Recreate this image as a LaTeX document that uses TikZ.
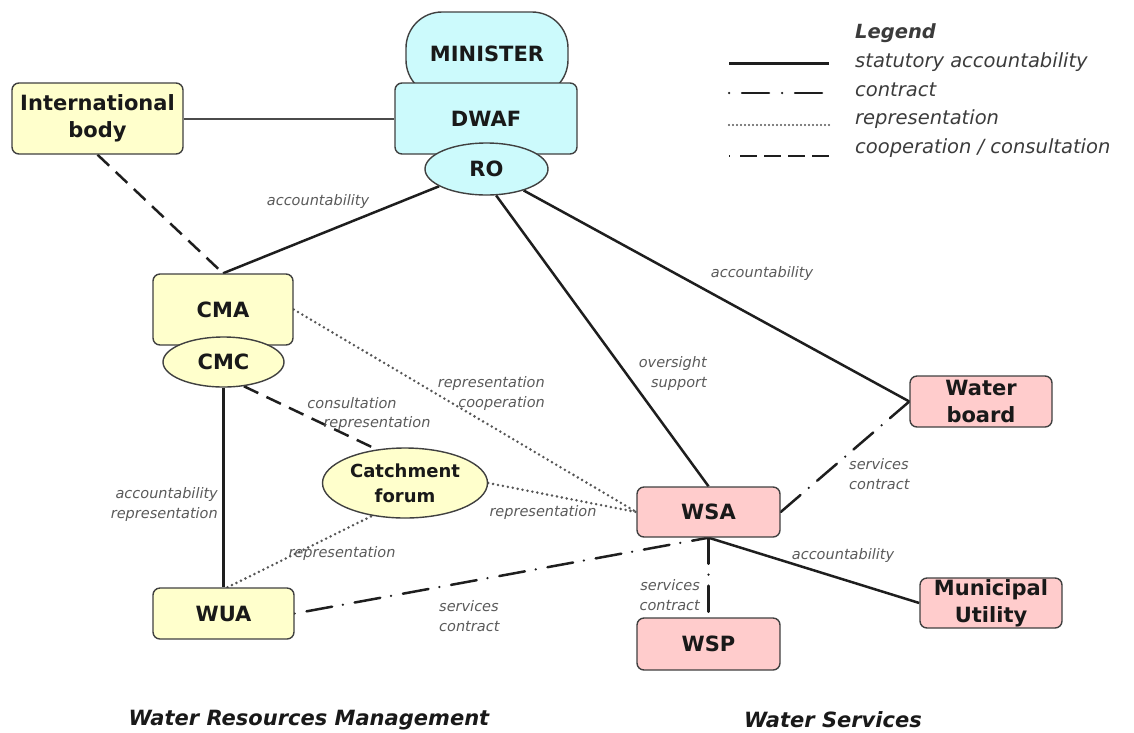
\documentclass[tikz,border=0pt]{standalone}
\usepackage{fontspec}
\setmainfont{DejaVu Sans}
\usetikzlibrary{shapes.geometric}
\pgfdeclarelayer{background}
\pgfsetlayers{background,main}
\definecolor{yel}{RGB}{255,255,204}
\definecolor{cya}{RGB}{204,250,252}
\definecolor{pnk}{RGB}{255,204,204}
\definecolor{bord}{RGB}{64,64,64}
\definecolor{lab}{RGB}{90,90,90}
\definecolor{txt}{RGB}{25,25,25}
\definecolor{lnc}{RGB}{30,30,30}
\begin{document}
\begin{tikzpicture}[x=1pt,y=-1pt,
  nodefont/.style={font=\fontsize{21}{27}\selectfont\bfseries},
  box/.style={draw=bord, line width=1.4pt, rounded corners=7pt, inner sep=0pt, align=center, nodefont, text=txt},
  oval/.style={ellipse, draw=bord, line width=1.4pt, inner sep=0pt, align=center, nodefont, text=txt},
  lbl/.style={font=\fontsize{14.5}{20}\selectfont\itshape, text=lab, inner sep=0pt},
  legtxt/.style={font=\fontsize{19.5}{24}\selectfont\itshape, text=txt!85, inner sep=0pt, anchor=west},
  titletxt/.style={font=\fontsize{21}{25}\selectfont\bfseries\itshape, text=txt, inner sep=0pt},
  solidln/.style={line width=2.5pt, draw=lnc},
  contractln/.style={line width=2.5pt, draw=lnc, line cap=round, dash pattern=on 26pt off 11pt on 0pt off 11pt},
  reprln/.style={line width=2.8pt, draw=lnc!75, line cap=round, dash pattern=on 0pt off 5pt},
  coopln/.style={line width=2.5pt, draw=lnc, dash pattern=on 16pt off 9pt},
]
\useasboundingbox (0,0) rectangle (1134,732);

% nodes
\node[box, fill=cya, rounded corners=36pt, minimum width=162pt, minimum height=84pt] (MIN) at (487,54) {MINISTER};
\node[box, fill=cya, minimum width=182pt, minimum height=71pt] (DWAF) at (486,118.5) {DWAF};
\node[oval, fill=cya, minimum width=123pt, minimum height=52pt] (RO) at (486.5,169) {RO};
\node[box, fill=yel, minimum width=171pt, minimum height=71pt] (INT) at (97.5,118.5) {International\\body};
\node[box, fill=yel, minimum width=140pt, minimum height=71pt] (CMA) at (223,309.5) {CMA};
\node[oval, fill=yel, minimum width=121pt, minimum height=50pt] (CMC) at (223.5,362) {CMC};
\node[oval, fill=yel, minimum width=165pt, minimum height=70pt, font=\fontsize{18}{25}\selectfont\bfseries] (CF) at (405,483) {Catchment\\forum};
\node[box, fill=yel, minimum width=141pt, minimum height=51pt] (WUA) at (223.5,613.5) {WUA};
\node[box, fill=pnk, minimum width=143pt, minimum height=50pt] (WSA) at (708.5,512) {WSA};
\node[box, fill=pnk, minimum width=143pt, minimum height=52pt] (WSP) at (708.5,644) {WSP};
\node[box, fill=pnk, minimum width=142pt, minimum height=51pt] (WB) at (981,401.5) {Water\\board};
\node[box, fill=pnk, minimum width=142pt, minimum height=50pt] (MU) at (991,603) {Municipal\\Utility};

% connectors
\begin{pgfonlayer}{background}
\draw[solidln, line width=2pt, draw=lnc!80] (INT.east) -- (DWAF.west);
\draw[coopln] (INT.south) -- (CMA.north);
\draw[solidln] (RO.200) -- (CMA.north);
\draw[solidln] (RO.-70) -- (WSA.north);
\draw[solidln] (RO.-30) -- (WB.west);
\draw[reprln] (CMA.east) -- (WSA.west);
\draw[coopln] (CMC.-50) -- (CF.130);
\draw[solidln] (CMC.south) -- (WUA.north);
\draw[reprln] ([xshift=4pt]WUA.north) -- (CF.225);
\draw[reprln] (CF.east) -- (WSA.west);
\draw[contractln, dash pattern=on 0pt off 12pt on 26pt off 11pt] (WUA.east) -- (WSA.south);
\draw[contractln] (WSA.east) -- (WB.west);
\draw[contractln] (WSA.south) -- (WSP.north);
\draw[solidln] (WSA.south) -- (MU.west);
\end{pgfonlayer}

% connector labels
\node[lbl] (la1) at (318,201) {accountability};
\node[lbl] (la2) at (762,273) {accountability};
\node[lbl, anchor=east, align=right] (la3) at (707,373) {oversight\\support};
\node[lbl, anchor=east, align=right] (la4) at (545,393) {representation\\cooperation};
\node[lbl] (la5) at (352,403) {consultation};
\node[lbl] (la6) at (377,423) {representation};
\node[lbl, anchor=east, align=right] (la7) at (218,504) {accountability\\representation};
\node[lbl] (la8) at (342,553) {representation};
\node[lbl] (la9) at (543,512) {representation};
\node[lbl, anchor=west, align=left] (la10) at (849,474) {services\\contract};
\node[lbl, anchor=west, align=left] (la11) at (439,616) {services\\contract};
\node[lbl, anchor=east, align=right] (la12) at (700,595) {services\\contract};
\node[lbl] (la13) at (843,555) {accountability};

% legend
\node[legtxt, font=\fontsize{19.5}{24}\selectfont\bfseries\itshape] (LG) at (855,33) {Legend};
\node[legtxt] (L1) at (855,62) {statutory accountability};
\node[legtxt] (L2) at (855,90) {contract};
\node[legtxt] (L3) at (855,119) {representation};
\node[legtxt] (L4) at (855,148) {cooperation / consultation};
\coordinate (s1a) at (729,63);  \coordinate (s1b) at (829,63);
\coordinate (s2a) at (729,93);  \coordinate (s2b) at (829,93);
\coordinate (s3a) at (729,125); \coordinate (s3b) at (829,125);
\coordinate (s4a) at (729,156); \coordinate (s4b) at (829,156);
\draw[solidln, line width=3pt] (s1a) -- (s1b);
\draw[contractln, dash pattern=on 0pt off 13pt on 27pt off 13pt] (s2a) -- (s2b);
\draw[reprln, line width=2.4pt, dash pattern=on 0pt off 4pt] (s3a) -- (s3b);
\draw[coopln, dash pattern=on 1pt off 10pt on 17pt off 7pt on 17pt off 7pt on 17pt off 7pt on 17pt off 7pt] (s4a) -- (s4b);

% titles
\node[titletxt] (T1) at (309,720) {Water Resources Management};
\node[titletxt] (T2) at (833,720) {Water Services};
\end{tikzpicture}
\end{document}
